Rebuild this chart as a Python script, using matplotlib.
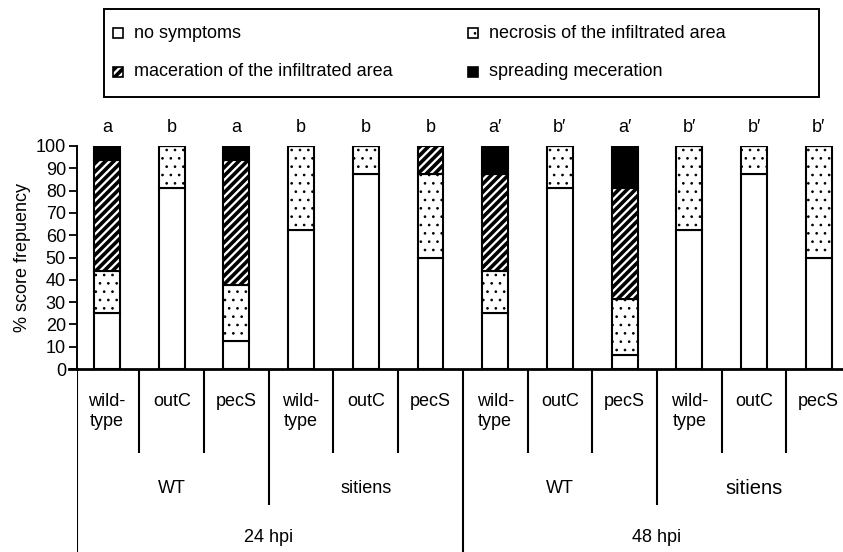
import matplotlib
matplotlib.use("Agg")
import matplotlib.pyplot as plt
from matplotlib.patches import Rectangle
import numpy as np

plt.rcParams['font.family'] = ['Liberation Sans', 'DejaVu Sans']

# ─── data ────────────────────────────────────────────────────────────────────
strains = ['wild-\ntype', 'outC', 'pecS'] * 4
plants = ['WT', 'sitiens', 'WT', 'sitiens']
times = ['24 hpi', '48 hpi']
letters = ['a', 'b', 'a', 'b', 'b', 'b', 'a\u2032', 'b\u2032', 'a\u2032', 'b\u2032', 'b\u2032', 'b\u2032']

no_symptoms = [25, 81.25, 12.5, 62.5, 87.5, 50, 25, 81.25, 6.25, 62.5, 87.5, 50]
necrosis = [18.75, 18.75, 25, 37.5, 12.5, 37.5, 18.75, 18.75, 25, 37.5, 12.5, 50]
maceration = [50, 0, 56.25, 0, 0, 12.5, 43.75, 0, 50, 0, 0, 0]
spreading = [6.25, 0, 6.25, 0, 0, 0, 12.5, 0, 18.75, 0, 0, 0]

series = [
    ('no symptoms', no_symptoms, 'white', None),
    ('necrosis of the infiltrated area', necrosis, 'white', '..'),
    ('maceration of the infiltrated area', maceration, 'white', '////'),
    ('spreading meceration', spreading, 'black', None),
]
hatch_lw = {None: 1.0, '..': 0.7, '////': 2.6}
FS = 13

# ─── figure ──────────────────────────────────────────────────────────────────
W, H = 843, 552
fig = plt.figure(figsize=(W / 100, H / 100), dpi=100)
x0, y0, ytop = 77, 369, 146
ax = fig.add_axes([x0 / W, (H - y0) / H, 1 - x0 / W, (y0 - ytop) / H])
xlim = (-0.464, 11.375)

x = np.arange(len(strains))
bottom = np.zeros(len(x))
for label, vals, fc, hatch in series:
    vals = np.array(vals, dtype=float)
    with plt.rc_context({'hatch.linewidth': hatch_lw[hatch]}):
        bars = ax.bar(x, vals, width=0.4, bottom=bottom, color=fc,
                      edgecolor='black', linewidth=1.5, hatch=hatch, zorder=2)
    for b in bars:
        if hasattr(b, 'set_hatch_linewidth'):
            b.set_hatch_linewidth(hatch_lw[hatch])
    bottom += vals

for xi, lt in zip(x, letters):
    ax.text(xi, 108.5, lt, ha='center', va='center', fontsize=FS, clip_on=False)

ax.set_xlim(*xlim)
ax.set_ylim(0, 100)
ax.set_yticks(range(0, 101, 10))
ax.set_xticks([])
ax.tick_params(axis='y', direction='out', length=6, width=1.3, labelsize=FS, pad=2)
for s in ['top', 'right']:
    ax.spines[s].set_visible(False)
ax.spines['left'].set_linewidth(1.4)
ax.spines['bottom'].set_linewidth(2.0)
ax.set_ylabel('% score frepuency', fontsize=FS, labelpad=3)
# little extension of the x axis to the left (the "0" tick)
ax.plot([-0.58, xlim[0]], [0, 0], color='black', lw=2.0, clip_on=False)

# ─── category table under the axis (pixel rows on y) ─────────────────────────
tab = fig.add_axes([x0 / W, 0, 1 - x0 / W, (H - y0) / H])
tab.set_xlim(*xlim)
tab.set_ylim(H, y0)
tab.axis('off')
lw = 1.5
tab.vlines(xlim[0], y0, H, color='black', lw=lw)
for k in range(len(x) - 1):
    b = k + 0.5
    if k == 5:
        end = H
    elif k in (2, 8):
        end = 505
    else:
        end = 453
    tab.vlines(b, y0, end, color='black', lw=lw)
for xi, s in zip(x, strains):
    tab.text(xi, 393, s, ha='center', va='top', fontsize=FS, linespacing=1.2)
for gi, p in enumerate(plants):
    tab.text(3 * gi + 1, 488, p, ha='center', va='center',
             fontsize=14.5 if gi == 3 else FS)
for ti, t in enumerate(times):
    tab.text(6 * ti + 2.5, 538, t, ha='center', va='center', fontsize=FS)

# ─── legend box ──────────────────────────────────────────────────────────────
lg = fig.add_axes([0, 0, 1, 1], zorder=-1)
lg.set_xlim(0, W)
lg.set_ylim(H, 0)
lg.axis('off')
lg.add_patch(Rectangle((104, 9), 715, 88, fill=False, ec='black', lw=1.4))
slots = [(113, 33), (468, 33), (113, 72), (468, 72)]
for (sx, sy), (label, _, fc, hatch) in zip(slots, series):
    with plt.rc_context({'hatch.linewidth': hatch_lw[hatch]}):
        r = Rectangle((sx, sy - 5), 10, 10, fc=fc, ec='black', lw=1.2, hatch=hatch)
    if hasattr(r, 'set_hatch_linewidth'):
        r.set_hatch_linewidth(hatch_lw[hatch])
    lg.add_patch(r)
    lg.text(sx + 21, sy, label, ha='left', va='center', fontsize=FS)

fig.savefig('out.png', dpi=100)
